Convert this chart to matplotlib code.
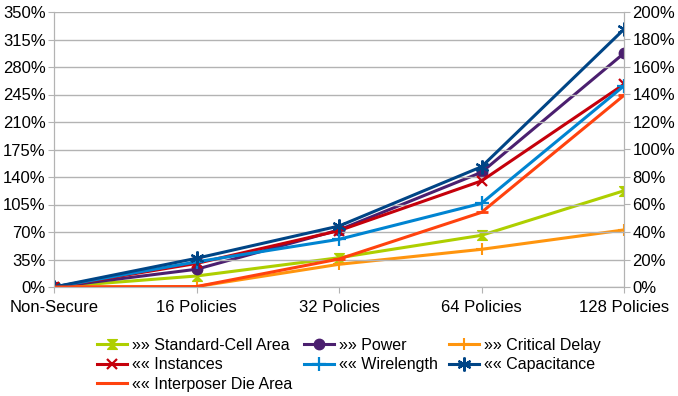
import matplotlib
matplotlib.use("Agg")
import matplotlib.pyplot as plt
from matplotlib.path import Path
import numpy as np

plt.rcParams['font.family'] = ['Liberation Sans', 'DejaVu Sans']

categories = ["Non-Secure", "16 Policies", "32 Policies", "64 Policies", "128 Policies"]

# right-axis series (percent)
std_cell_area = [0, 8, 21.3, 37.6, 70]
power = [0, 12.9, 41.5, 83.4, 170]
critical_delay = [0, 0.3, 16.5, 27.4, 41.5]

# left-axis series (percent)
instances = [0, 30, 71.7, 135, 258]
wirelength = [0, 32, 60.7, 106.5, 256]
capacitance = [0, 36.5, 77.6, 153, 328]
interposer_area = [0, 0.5, 35.6, 95, 244]

left_ticks = np.arange(0, 351, 35)
right_ticks = np.arange(0, 201, 20)

hourglass = Path([(-1, 1), (1, 1), (-1, -1), (1, -1), (-1, 1)],
                 [Path.MOVETO, Path.LINETO, Path.LINETO, Path.LINETO, Path.CLOSEPOLY])

fig = plt.figure(figsize=(6.78, 3.96), dpi=100)
ax = fig.add_axes([54 / 678, 1 - 287 / 396, 570 / 678, 275 / 396])
ax2 = ax.twinx()

x = np.arange(len(categories))
lw = 2.2

right_series = [
    ("»» Standard-Cell Area", std_cell_area, "#aecf00", dict(marker=hourglass, ms=7)),
    ("»» Power", power, "#4b1f6f", dict(marker="o", ms=7.5)),
    ("»» Critical Delay", critical_delay, "#ff950e", dict(marker="+", ms=9, mew=1.5)),
]
left_series = [
    ("«« Instances", instances, "#c5000b", dict(marker="x", ms=7, mew=1.6)),
    ("«« Wirelength", wirelength, "#0084d1", dict(marker="+", ms=10, mew=1.6)),
    ("«« Capacitance", capacitance, "#004586", dict(marker=(6, 2, 0), ms=10, mew=1.6)),
    ("«« Interposer Die Area", interposer_area, "#ff420e", dict(marker="_", ms=9, mew=2)),
]

handles = []
for name, vals, col, mk in left_series:
    h, = ax.plot(x, vals, color=col, lw=lw, label=name, **mk)
    handles.append(h)
for name, vals, col, mk in right_series:
    h, = ax2.plot(x, vals, color=col, lw=lw, label=name, **mk)
    handles.append(h)

ax.set_zorder(ax2.get_zorder() + 1)
ax.patch.set_visible(False)

ax.set_xlim(0, len(categories) - 1)
ax.set_ylim(0, 350)
ax2.set_ylim(0, 200)
ax.set_yticks(left_ticks)
ax.set_yticklabels([f"{t}%" for t in left_ticks])
ax2.set_yticks(right_ticks)
ax2.set_yticklabels([f"{t}%" for t in right_ticks])
ax.set_xticks(x)
ax.set_xticklabels(categories)

ax.grid(axis="y", color="#b3b3b3", lw=1)
ax.set_axisbelow(True)
for a in (ax, ax2):
    for s in a.spines.values():
        s.set_color("#b3b3b3")
    a.spines["top"].set_visible(False)
    a.tick_params(axis="both", labelsize=12, colors="#b3b3b3", labelcolor="black", length=4)
ax.tick_params(axis="x", pad=5)
ax.tick_params(axis="y", pad=2)
ax2.tick_params(axis="y", pad=2)

# matplotlib fills legend columns first; this order gives row-wise reading
order = [4, 0, 3, 5, 1, 6, 2]
legend = fig.legend([handles[i] for i in order], [handles[i].get_label() for i in order],
                    loc="upper left", bbox_to_anchor=(97 / 678, 1 - 338 / 396),
                    ncol=3, frameon=False, fontsize=11.5, handlelength=1.9,
                    handletextpad=0.3, columnspacing=0.7, labelspacing=0.28,
                    borderpad=0, borderaxespad=0)

fig.savefig("out.png", dpi=100)
